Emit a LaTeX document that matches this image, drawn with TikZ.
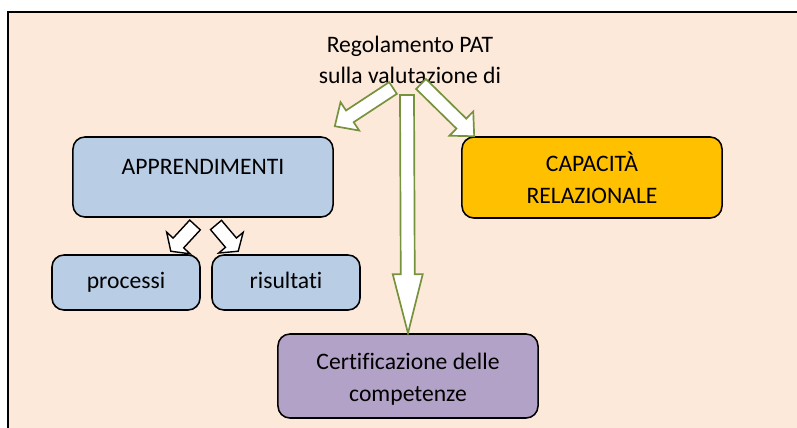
\documentclass[tikz,border=0pt]{standalone}
\usepackage{fontspec}
\setmainfont{Carlito}[Ligatures={NoCommon}]
\usetikzlibrary{calc}
\definecolor{PeachBg}{HTML}{FDE9D9}
\definecolor{BoxBlue}{HTML}{B9CDE5}
\definecolor{BoxGold}{HTML}{FFC000}
\definecolor{BoxLilac}{HTML}{B3A2C7}
\definecolor{ArrowGreen}{HTML}{76923C}

% block arrow: style, tail, tip, half shaft, half head, head length
\newcommand{\blockarrow}[6]{%
  \coordinate (ba-s) at (#2);
  \coordinate (ba-e) at (#3);
  \coordinate (ba-h) at ($(ba-e)!#6!(ba-s)$);
  \draw[#1] ($(ba-s)!#4!90:(ba-e)$) -- ($(ba-h)!#4!90:(ba-e)$)
    -- ($(ba-h)!#5!90:(ba-e)$) -- (ba-e) -- ($(ba-h)!#5!-90:(ba-e)$)
    -- ($(ba-h)!#4!-90:(ba-e)$) -- ($(ba-s)!#4!-90:(ba-e)$) -- cycle;
}

\tikzset{
  box/.style={draw=black, line width=1.1pt, rounded corners=0.3cm, align=center,
    inner sep=0pt, font=\fontsize{16.8}{22.7}\selectfont},
  smallbox/.style={box, fill=BoxBlue, minimum width=3.7cm, minimum height=1.375cm,
    text height=12pt, text depth=4pt},
  greenarrow/.style={draw=ArrowGreen, fill=white, line width=1.2pt},
  blackarrow/.style={draw=black, fill=white, line width=1pt}
}

\begin{document}
\begin{tikzpicture}[x=0.025cm, y=-0.025cm]
    \clip (0,0) rectangle (797,428);
%    frame
    \draw[line width=1.4pt, fill=PeachBg] (8,12) rectangle (820,450);

    \node[align=center, font=\fontsize{16.8}{22}\selectfont] (title) at (410,60) {Regolamento PAT\\sulla valutazione di};

%    boxes
    \node[box, fill=BoxBlue, minimum width=6.5cm, minimum height=2cm, text depth=14pt] (appr) at (203,177) {APPRENDIMENTI};
    \node[box, fill=BoxGold, minimum width=6.5cm, minimum height=2.025cm] (capac) at (592,177.5) {CAPACITÀ\\RELAZIONALE};
    \node[smallbox] (proc) at (126,282.5) {processi};
    \node[smallbox] (risu) at (286,282.5) {risultati};
    \node[box, fill=BoxLilac, minimum width=6.5cm, minimum height=2.1cm] (cert) at (408,376) {\\[-6pt]Certificazione delle\\competenze};

%    arrows
    \coordinate (src-l) at (393,88);
    \coordinate (src-m) at (407,95);
    \coordinate (src-r) at (421,84);
    \coordinate (tip-l) at ($(appr.north east)+(1,-10)$);
    \coordinate (tip-r) at ($(capac.north west)+(13,0)$);
    \blockarrow{greenarrow}{src-l}{tip-l}{0.175cm}{0.425cm}{0.45cm}
    \blockarrow{greenarrow}{src-r}{tip-r}{0.175cm}{0.425cm}{0.45cm}
    \blockarrow{greenarrow}{src-m}{cert.north}{0.175cm}{0.375cm}{1.475cm}

    \coordinate (sub-l) at (195,225);
    \coordinate (sub-r) at (216,225);
    \coordinate (tip-p) at ($(proc.north east)+(-30,-3)$);
    \coordinate (tip-q) at ($(risu.north west)+(27,-3)$);
    \blockarrow{blackarrow}{sub-l}{tip-p}{0.18cm}{0.4cm}{0.28cm}
    \blockarrow{blackarrow}{sub-r}{tip-q}{0.18cm}{0.4cm}{0.28cm}
\end{tikzpicture}
\end{document}
